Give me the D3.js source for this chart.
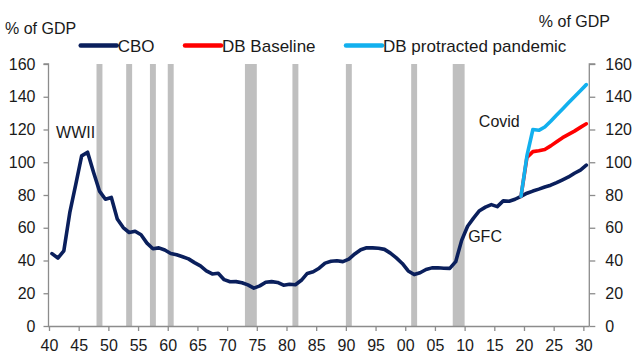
<!DOCTYPE html>
<html>
<head>
<meta charset="utf-8">
<script src="https://cdn.jsdelivr.net/npm/d3@7"></script>
<style>
  html, body { margin: 0; padding: 0; background: #fff; }
  svg { display: block; }
  text { font-family: "Liberation Sans", Arial, sans-serif; fill: #1a1a1a; }
</style>
</head>
<body>
<svg id="chart" width="640" height="360"></svg>
<script>
// ---------- data ----------
const years = d3.range(1940, 2031);
const cbo = [
  44.2, 41.5, 45.9, 69.2, 86.4, 103.9, 106.1, 93.9, 82.4, 77.4,
  78.5, 65.4, 60.1, 57.1, 57.9, 55.7, 50.6, 47.2, 47.7, 46.4,
  44.3, 43.5, 42.3, 41.0, 38.7, 36.7, 33.7, 31.8, 32.2, 28.3,
  27.0, 27.1, 26.4, 25.1, 23.1, 24.5, 26.7, 27.1, 26.6, 24.9,
  25.5, 25.2, 27.9, 32.1, 33.1, 35.3, 38.4, 39.5, 39.8, 39.3,
  40.8, 44.0, 46.6, 47.8, 47.7, 47.5, 46.8, 44.5, 41.6, 38.2,
  33.6, 31.4, 32.5, 34.5, 35.5, 35.6, 35.3, 35.2, 39.3, 52.3,
  60.9, 65.9, 70.4, 72.6, 74.1, 72.9, 76.4, 76.2, 77.4, 79.2,
  81.1, 82.4, 83.6, 84.9, 86.0, 87.6, 89.3, 91.0, 93.3, 95.2, 98.2
];
const dbYears = d3.range(2019, 2031);
const dbBaseline  = [79.2, 103, 106.5, 107, 107.8, 110, 112.5, 115, 117, 119, 121.3, 123.5];
const dbProtracted = [79.2, 104, 120, 119.5, 121.5, 125, 128.8, 132.5, 136.3, 140, 143.7, 147.4];
const recessions = [[1948,1949],[1953,1954],[1957,1958],[1960,1961],[1973,1975],[1981,1982],[1990,1991],[2001,2002],[2008,2010]];
const yTicks = [0, 20, 40, 60, 80, 100, 120, 140, 160];
const xTicks = [1940,1945,1950,1955,1960,1965,1970,1975,1980,1985,1990,1995,2000,2005,2010,2015,2020,2025,2030];
const seriesNames = ["CBO", "DB Baseline", "DB protracted pandemic"];
const seriesColors = ["#0a1f5c", "#ff0000", "#12b0ee"];
const annotations = [
  {text: "WWII", year: 1941.2, value: 115},
  {text: "Covid", year: 2012.4, value: 121.5},
  {text: "GFC", year: 2010.6, value: 51.5}
];

// ---------- layout ----------
const svg = d3.select("#chart");
const x = d3.scaleLinear().domain([1940, 2031]).range([49, 589.3]);
const y = d3.scaleLinear().domain([0, 160]).range([326, 64]);
const axisColor = "#8c8c8c";

// recession bars
svg.append("g").selectAll("rect").data(recessions).enter().append("rect")
  .attr("x", d => x(d[0]))
  .attr("width", d => x(d[1]) - x(d[0]))
  .attr("y", y(160))
  .attr("height", y(0) - y(160))
  .attr("fill", "#bfbfbf");

// axes
const fmtX = d => String(d % 100).padStart(2, "0");
const gx = svg.append("g").attr("transform", `translate(0,${y(0)})`)
  .call(d3.axisBottom(x).tickValues(xTicks).tickFormat(fmtX).tickSize(5).tickPadding(10));
const gl = svg.append("g").attr("transform", `translate(${x(1940)-0.5},0)`)
  .call(d3.axisLeft(y).tickValues(yTicks).tickSize(5).tickPadding(8));
const gr = svg.append("g").attr("transform", `translate(${x(2031)},0)`)
  .call(d3.axisRight(y).tickValues(yTicks).tickSize(6).tickPadding(10));
[gx, gl, gr].forEach(g => {
  g.select(".domain").attr("stroke", axisColor).attr("stroke-width", 1.3);
  g.selectAll(".tick line").attr("stroke", axisColor).attr("stroke-width", 1.3);
  g.selectAll(".tick text").attr("fill", "#1a1a1a").style("font-size", "16px")
    .style("font-family", '"Liberation Sans", Arial, sans-serif');
});
gx.select(".domain").attr("d", `M${x(1940)-1},0.5H${x(2031)}`);
gx.selectAll(".tick text").attr("dy", "0.6em");
gl.select(".domain").attr("d", `M-5,${y(160)}H0V${y(0)}`);
gr.select(".domain").attr("d", `M6,${y(160)}H0V${y(0)}`);

// lines
const line = d3.line().x(d => x(d[0] + 0.5)).y(d => y(d[1]));
const seriesData = [
  years.map((yr, i) => [yr, cbo[i]]),
  dbYears.map((yr, i) => [yr, dbBaseline[i]]),
  dbYears.map((yr, i) => [yr, dbProtracted[i]])
];
seriesData.forEach((s, i) => {
  svg.append("path").datum(s).attr("d", line)
    .attr("fill", "none").attr("stroke", seriesColors[i])
    .attr("stroke-width", 3.6).attr("stroke-linejoin", "round").attr("stroke-linecap", "round");
});

// axis titles
svg.append("text").attr("x", 5).attr("y", 34).style("font-size", "16px").text("% of GDP");
svg.append("text").attr("x", 610).attr("y", 26.5).attr("text-anchor", "end").style("font-size", "16px").text("% of GDP");

// legend
const legendX = [80.7, 185, 346];
seriesNames.forEach((n, i) => {
  svg.append("line").attr("x1", legendX[i]).attr("x2", legendX[i] + 36)
    .attr("y1", 45.5).attr("y2", 45.5)
    .attr("stroke", seriesColors[i]).attr("stroke-width", 4.5).attr("stroke-linecap", "round");
  svg.append("text").attr("x", legendX[i] + 37).attr("y", 51.5).style("font-size", "17px").text(n);
});

// annotations
annotations.forEach(a => {
  svg.append("text").attr("x", x(a.year)).attr("y", y(a.value)).style("font-size", "16px").text(a.text);
});
</script>
</body>
</html>
